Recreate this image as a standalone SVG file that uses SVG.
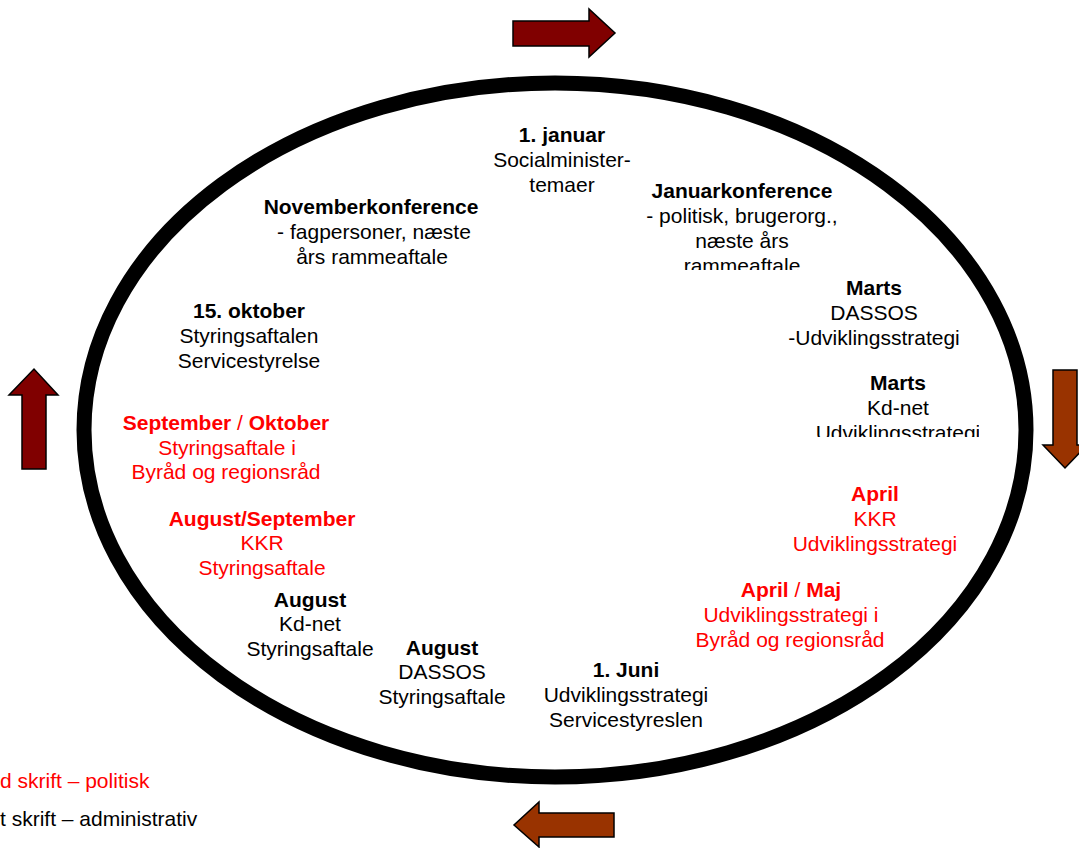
<svg xmlns="http://www.w3.org/2000/svg" width="1079" height="848" viewBox="0 0 1079 848">
<style>
text{font-family:"Liberation Sans",Arial,sans-serif;font-size:21px;text-anchor:middle;fill:#000}
.b{font-weight:bold}
.r{fill:#FF0000}
.n{font-weight:normal}
.lg{text-anchor:start;font-size:21px}
.a1{fill:#800000;stroke:#000;stroke-width:1.5}
.a2{fill:#993300;stroke:#000;stroke-width:1.5}
</style>
<defs>
<clipPath id="c1"><rect x="600" y="170" width="300" height="100"/></clipPath>
<clipPath id="c2"><rect x="780" y="360" width="199" height="77"/></clipPath>
</defs>
<rect width="1079" height="848" fill="#fff"/>
<g id="cycle">
<ellipse cx="555" cy="430" rx="471" ry="347" fill="none" stroke="#000" stroke-width="15"/>
</g>
<g id="connectors">
<polygon class="a1" points="513,21 589,21 589,9 615,33 589,57 589,46 513,46"/>
<polygon class="a2" points="1053,370 1077,370 1077,445 1087,445 1065,468 1043,445 1053,445"/>
<polygon class="a2" points="614,813 539,813 539,802 514,825 539,847 539,837 614,837"/>
<polygon class="a1" points="22,469 22,395 9,395 34,369 58,395 46,395 46,469"/>
</g>
<g id="n-januar">
<text x="562" y="142" class="b">1. januar</text>
<text x="562" y="167">Socialminister-</text>
<text x="562" y="192">temaer</text>
</g>
<g id="n-januarkonference" clip-path="url(#c1)">
<text x="742" y="198" class="b">Januarkonference</text>
<text x="742" y="223">- politisk, brugerorg.,</text>
<text x="742" y="248">næste års</text>
<text x="742" y="273">rammeaftale</text>
</g>
<g id="n-novemberkonference">
<text x="371" y="214" class="b">Novemberkonference</text>
<text x="374" y="239">- fagpersoner, næste</text>
<text x="372" y="264">års rammeaftale</text>
</g>
<g id="n-marts-dassos">
<text x="874" y="295" class="b">Marts</text>
<text x="874" y="320">DASSOS</text>
<text x="874" y="345">-Udviklingsstrategi</text>
</g>
<g id="n-marts-kdnet" clip-path="url(#c2)">
<text x="898" y="390" class="b">Marts</text>
<text x="898" y="415">Kd-net</text>
<text x="898" y="440">Udviklingsstrategi</text>
</g>
<g id="n-oktober">
<text x="249" y="318" class="b">15. oktober</text>
<text x="249" y="343">Styringsaftalen</text>
<text x="249" y="368">Servicestyrelse</text>
</g>
<g id="n-sep-okt">
<text x="226" y="430" class="r b">September<tspan class="n"> / </tspan>Oktober</text>
<text x="227" y="455" class="r">Styringsaftale i</text>
<text x="226" y="479" class="r">Byråd og regionsråd</text>
</g>
<g id="n-april-kkr">
<text x="875" y="501" class="r b">April</text>
<text x="875" y="526" class="r">KKR</text>
<text x="875" y="551" class="r">Udviklingsstrategi</text>
</g>
<g id="n-aug-sep">
<text x="262" y="526" class="r b">August/September</text>
<text x="262" y="550" class="r">KKR</text>
<text x="262" y="575" class="r">Styringsaftale</text>
</g>
<g id="n-april-maj">
<text x="791" y="597" class="r b">April<tspan class="n"> / </tspan>Maj</text>
<text x="791" y="622" class="r">Udviklingsstrategi i</text>
<text x="790" y="647" class="r">Byråd og regionsråd</text>
</g>
<g id="n-aug-kdnet">
<text x="310" y="607" class="b">August</text>
<text x="310" y="631">Kd-net</text>
<text x="310" y="656">Styringsaftale</text>
</g>
<g id="n-aug-dassos">
<text x="442" y="655" class="b">August</text>
<text x="442" y="679">DASSOS</text>
<text x="442" y="704">Styringsaftale</text>
</g>
<g id="n-juni">
<text x="626" y="677" class="b">1. Juni</text>
<text x="626" y="702">Udviklingsstrategi</text>
<text x="626" y="727">Servicestyreslen</text>
</g>
<g id="legend">
<text x="0" y="788" class="lg r">d skrift – politisk</text>
<text x="0" y="826" class="lg">t skrift – administrativ</text>
</g>
</svg>
